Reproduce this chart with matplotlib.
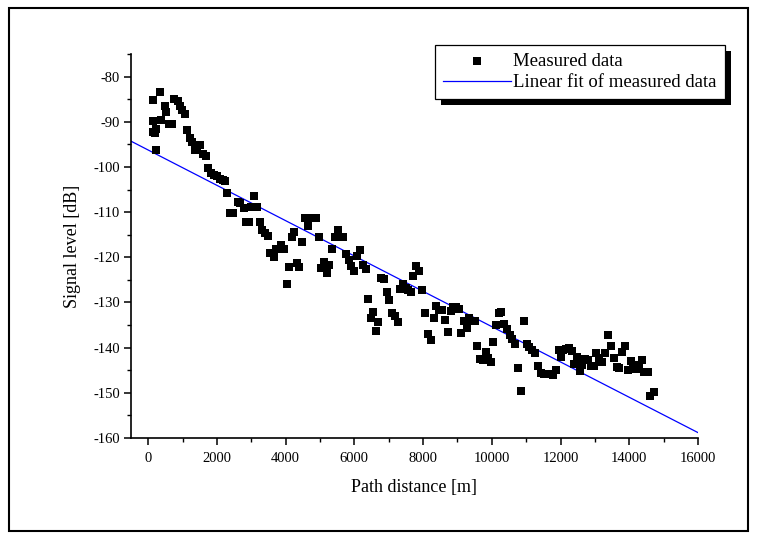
import numpy as np
import matplotlib
matplotlib.use("Agg")
import matplotlib.pyplot as plt
from matplotlib.patches import Rectangle
from matplotlib.ticker import MultipleLocator

plt.rcParams['font.family'] = ['Liberation Serif', 'DejaVu Serif']
plt.rcParams['axes.unicode_minus'] = False

# measured points (path distance in m, level in dB)
distance = [127, 141, 127, 198, 240, 240, 353, 382, 480, 523, 608, 693, 749, 862, 919,
            990, 1060, 1131, 1216, 1286, 1371, 1428, 1512, 1597, 1668, 1738, 1823, 1922,
            2007, 2092, 2177, 2233, 2304, 2375, 2459, 2615, 2686, 2799, 2855, 2926, 2997,
            3081, 3166, 3251, 3322, 3406, 3491, 3548, 3647, 3717, 3802, 3873, 3958, 4042,
            4099, 4184, 4240, 4325, 4396, 4480, 4565, 4650, 4735, 4876, 4961, 5018, 5117,
            5201, 5272, 5357, 5442, 5527, 5597, 5682, 5753, 5837, 5908, 5979, 6078, 6163,
            6247, 6332, 6403, 6473, 6544, 6629, 6700, 6784, 6869, 6940, 7011, 7095, 7180,
            7265, 7336, 7406, 7491, 7562, 7647, 7717, 7802, 7887, 7958, 8057, 8141, 8226,
            8311, 8382, 8467, 8551, 8650, 8721, 8806, 8876, 8947, 9032, 9102, 9187, 9272,
            9343, 9427, 9512, 9583, 9668, 9739, 9823, 9894, 9965, 10049, 10120, 10205,
            10276, 10360, 10445, 10516, 10601, 10671, 10756, 10841, 10926, 11011, 11081,
            11166, 11265, 11336, 11435, 11520, 11604, 11689, 11788, 11873, 11943, 12014,
            12085, 12170, 12254, 12325, 12396, 12481, 12566, 12636, 12707, 12792, 12876,
            12961, 13046, 13131, 13215, 13300, 13385, 13456, 13555, 13640, 13710, 13795,
            13866, 13951, 14049, 14120, 14205, 14276, 14360, 14431, 14557, 14597, 14723]
level = [-85.1, -89.8, -92.2, -92.5, -91.7, -96.2, -83.3, -89.5, -86.4, -87.9, -90.5, -90.5,
         -84.9, -85.5, -86.5, -87.4, -88.3, -91.9, -93.7, -94.5, -96.2, -95.3, -95.2, -97.2,
         -97.6, -100.3, -101.3, -101.8, -102.0, -102.6, -102.8, -103.0, -105.8, -110.1,
         -110.2, -107.8, -108.0, -109.0, -112.2, -112.2, -108.8, -106.5, -108.8, -112.2,
         -114.0, -114.6, -115.3, -119.1, -120.0, -118.2, -118.2, -117.2, -118.2, -126.0,
         -122.1, -115.4, -114.3, -121.3, -122.1, -116.7, -111.3, -113.1, -111.3, -111.3,
         -115.4, -122.4, -121.1, -123.4, -121.8, -118.1, -115.4, -114.0, -115.4, -115.4,
         -119.3, -120.7, -121.9, -123.1, -119.7, -118.4, -121.8, -122.7, -129.3, -133.4,
         -132.1, -136.3, -134.3, -124.6, -124.9, -127.6, -129.5, -132.3, -133.1, -134.4,
         -127.0, -126.0, -126.8, -127.2, -127.7, -124.1, -121.9, -123.1, -127.3, -132.4,
         -137.0, -138.3, -133.4, -130.7, -131.6, -131.6, -133.8, -136.5, -131.9, -131.1,
         -131.1, -131.5, -136.7, -134.2, -135.7, -133.5, -134.2, -134.2, -139.7, -142.5,
         -142.7, -141.0, -142.4, -143.1, -138.7, -135.0, -132.4, -132.1, -134.8, -135.8,
         -137.1, -138.1, -139.3, -144.5, -149.6, -134.1, -139.3, -139.9, -140.5, -141.2,
         -144.1, -145.7, -145.9, -145.8, -145.8, -146.0, -145.0, -140.5, -142.0, -140.5,
         -140.2, -140.0, -140.7, -143.7, -142.0, -145.2, -143.9, -142.5, -142.8, -144.0,
         -144.0, -141.2, -142.4, -143.1, -141.2, -137.3, -139.6, -142.2, -144.3, -144.4,
         -141.0, -139.6, -145.0, -143.0, -144.1, -144.8, -143.8, -142.8, -145.4, -145.4,
         -150.6, -149.8]

# linear fit of the measured data
fit_slope = -0.00391   # dB per m
fit_intercept = -96.25  # dB at 0 m
fit_range = [-500, 16000]

fig = plt.figure(figsize=(7.59, 5.37), dpi=100)
ax = fig.add_axes([0.1726, 0.1844, 0.747, 0.715])
ax.set_facecolor('none')

ax.scatter(distance, level, marker='s', s=30, color='black', linewidths=0,
           label='Measured data', zorder=3)
fx = np.array(fit_range)
ax.plot(fx, fit_intercept + fit_slope * fx, color='blue', lw=0.9,
        label='Linear fit of measured data', zorder=2)

ax.set_xlim(-500, 16000)
ax.set_ylim(-160, -75)
ax.xaxis.set_major_locator(MultipleLocator(2000))
ax.xaxis.set_minor_locator(MultipleLocator(1000))
ax.yaxis.set_minor_locator(MultipleLocator(5))
ax.set_yticks(np.arange(-160, -79, 10))

for s in ['top', 'right']:
    ax.spines[s].set_visible(False)
for s in ['left', 'bottom']:
    ax.spines[s].set_linewidth(1.2)

ax.tick_params(which='major', direction='out', length=5, width=1.1, labelsize=10.5, pad=3)
ax.tick_params(which='minor', direction='out', length=3, width=1.0)
ax.tick_params(axis='x', which='major', pad=5)

ax.set_xlabel('Path distance [m]', fontsize=13, labelpad=10)
ax.set_ylabel('Signal level [dB]', fontsize=13, labelpad=9)

leg = ax.legend(loc='upper right', bbox_to_anchor=(0.955, 0.916),
                bbox_transform=fig.transFigure, borderaxespad=0, fontsize=13.5,
                frameon=True, fancybox=False, framealpha=1, handlelength=3.6,
                handletextpad=0.15, borderpad=0.42, labelspacing=0.22, scatterpoints=1)
leg.get_frame().set_edgecolor('black')
leg.get_frame().set_linewidth(0.9)

# black drop shadow under the legend box
fig.canvas.draw()
bb = leg.get_window_extent()
fig.patches.append(Rectangle((bb.x0 + 6, bb.y0 - 6), bb.width, bb.height,
                             transform=None, facecolor='black', edgecolor='none',
                             zorder=-1))

# frame round the whole figure
fig.patches.append(Rectangle((9 / 759, 1 - 531 / 537), 739 / 759, 523 / 537,
                             transform=fig.transFigure, fill=False,
                             edgecolor='black', lw=1.5))

fig.savefig('out.png', dpi=100)
